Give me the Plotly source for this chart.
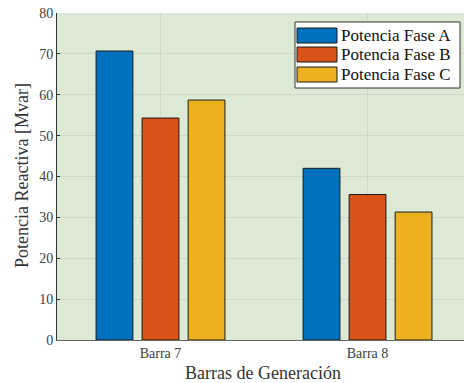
import plotly.graph_objects as go

categories = ["Barra 7", "Barra 8"]
cat_pos = [1, 2]
series_names = ["Potencia Fase A", "Potencia Fase B", "Potencia Fase C"]
fase_a = [70.7, 42.0]
fase_b = [54.3, 35.6]
fase_c = [58.7, 31.3]
y_ticks = [0, 10, 20, 30, 40, 50, 60, 70, 80]

colors = ["#0072BD", "#D95319", "#EDB120"]
FONT = "Liberation Serif"

fig = go.Figure()
for name, vals, col in zip(series_names, [fase_a, fase_b, fase_c], colors):
    fig.add_trace(go.Bar(
        x=cat_pos, y=vals, name=name,
        marker=dict(color=col, line=dict(color="#1a1a1a", width=1)),
        showlegend=False,
    ))

PW, PH, L, T = 407, 327, 57, 13
def px(x):
    return (x - L) / PW
def py(y):
    return 1 - (y - T) / PH

# custom legend (large swatches like the original)
fig.add_shape(type="rect", xref="paper", yref="paper", x0=px(295), x1=px(460),
              y0=py(88), y1=py(22), fillcolor="white",
              line=dict(color="#333333", width=1), layer="above")
sw_tops = [28, 47, 67]
for name, col, t in zip(series_names, colors, sw_tops):
    fig.add_shape(type="rect", xref="paper", yref="paper",
                  x0=px(297), x1=px(337), y0=py(t + 15), y1=py(t),
                  fillcolor=col, line=dict(color="#1a1a1a", width=1), layer="above")
    fig.add_annotation(xref="paper", yref="paper", x=px(339),
                       y=py(t + 7.5), text=name, showarrow=False,
                       xanchor="left", yanchor="middle",
                       font=dict(family=FONT, size=17, color="#111111"))

# axis titles
fig.add_annotation(xref="paper", yref="paper", x=px(263), y=py(373),
                   text="Barras de Generación", showarrow=False,
                   xanchor="center", yanchor="middle",
                   font=dict(family=FONT, size=18, color="#333333"))
fig.add_annotation(xref="paper", yref="paper", x=px(22), y=py(176),
                   text="Potencia Reactiva [Mvar]", showarrow=False, textangle=-90,
                   xanchor="center", yanchor="middle",
                   font=dict(family=FONT, size=18, color="#333333"))

fig.update_layout(
    width=464, height=383,
    margin=dict(l=L, r=0, t=T, b=43),
    paper_bgcolor="white",
    plot_bgcolor="#dcead5",
    barmode="group",
    bargap=0.333,
    bargroupgap=0.2,
    font=dict(family=FONT, size=14, color="#404040"),
)
fig.update_xaxes(
    range=[0.5, 2.466],
    tickvals=cat_pos, ticktext=categories,
    showgrid=True, gridcolor="#cbd9c6", gridwidth=1,
    showline=True, linecolor="#666666", linewidth=1,
    ticks="", ticklen=0, tickfont=dict(family=FONT, size=14, color="#404040"),
    automargin=False,
    zeroline=False,
)
fig.update_yaxes(
    range=[0, 80], tickvals=y_ticks,
    showgrid=True, gridcolor="#cbd9c6", gridwidth=1,
    showline=True, linecolor="#333333", linewidth=1,
    ticks="inside", ticklen=3, tickcolor="#333333",
    tickfont=dict(family=FONT, size=14, color="#404040"),
    automargin=False,
    zeroline=False,
)

fig.write_html("out.html", config={"displayModeBar": False},
               post_script="document.body.style.margin='0';document.body.style.overflow='hidden';")
